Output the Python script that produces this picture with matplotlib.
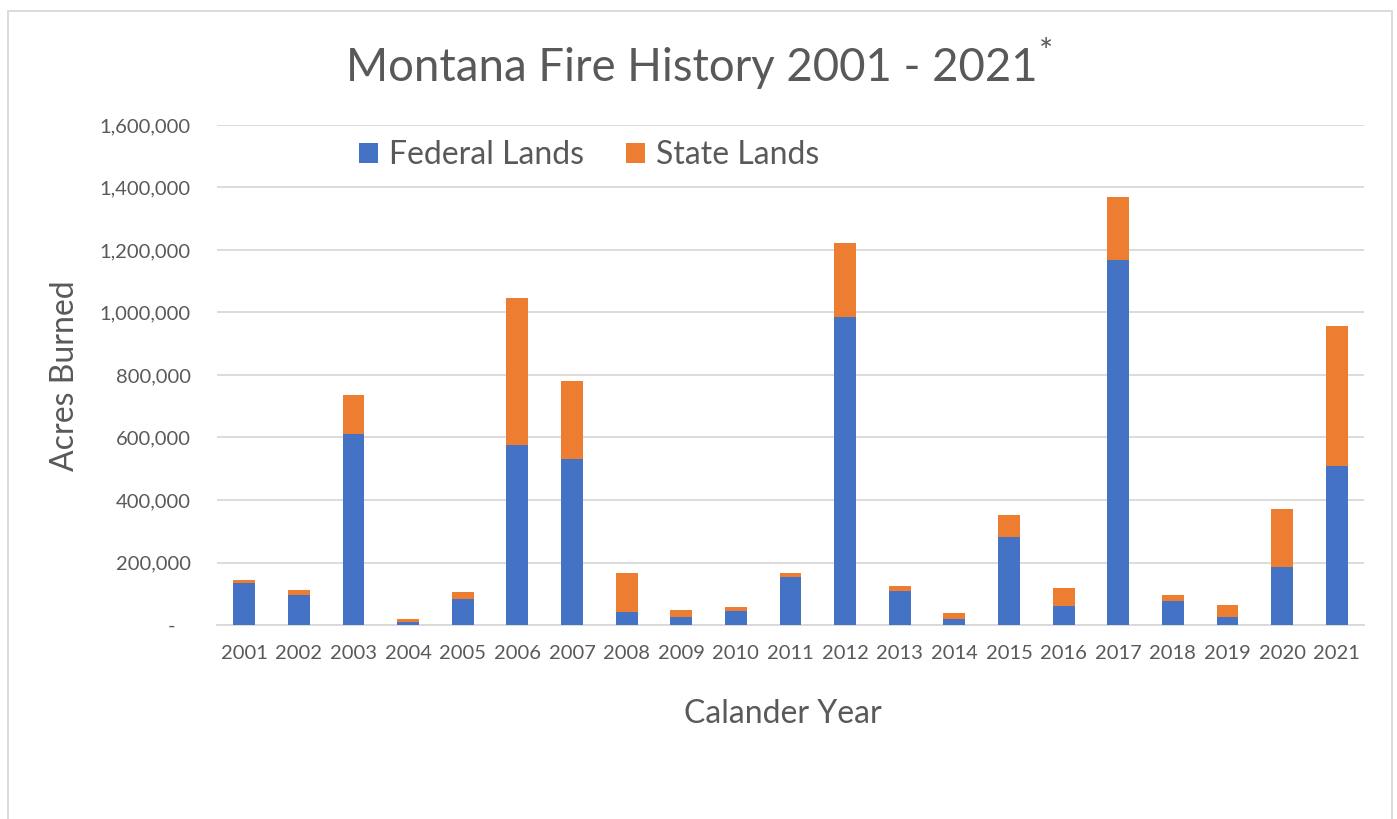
import matplotlib
matplotlib.use("Agg")
import matplotlib.pyplot as plt
from matplotlib.patches import Rectangle, Patch
import numpy as np

years = [str(y) for y in range(2001, 2022)]
federal = [135500, 96000, 611000, 10700, 82000, 575000, 532000, 41600, 26700, 44800,
           152500, 984500, 108800, 18000, 281600, 61900, 1168000, 76800, 26700, 186700, 510000]
total = [144000, 112000, 736000, 18000, 104500, 1046000, 780000, 166000, 49000, 57600,
         166400, 1223500, 123700, 37000, 352000, 117300, 1368500, 97000, 65000, 371000, 956800]
state = [t - f for t, f in zip(total, federal)]
yticks = [0, 200000, 400000, 600000, 800000, 1000000, 1200000, 1400000, 1600000]
ytick_labels = ["-   "] + [f"{v:,}" for v in yticks[1:]]

BLUE = "#4472C4"
ORANGE = "#ED7D31"
GRID = "#D9D9D9"
TXT = "#595959"
FONT = ["Lato", "DejaVu Sans"]
plt.rcParams['font.family'] = FONT

W, H = 1397, 819
fig = plt.figure(figsize=(W / 100, H / 100), dpi=100)
fig.patch.set_facecolor("white")

# chart border
fig.patches.append(Rectangle((8 / W, -0.05), (1392 - 8) / W, 1.05 - 11 / H,
                             transform=fig.transFigure, fill=False,
                             edgecolor=GRID, linewidth=1.3))

ax = fig.add_axes([217 / W, 1 - 625 / H, (1364 - 217) / W, 500 / H])
x = np.arange(len(years))
ax.bar(x, federal, width=0.4, color=BLUE, zorder=3, label="Federal Lands")
ax.bar(x, state, width=0.4, bottom=federal, color=ORANGE, zorder=3, label="State Lands")

ax.set_xlim(-0.5, len(years) - 0.5)
ax.set_ylim(0, 1600000)
ax.set_yticks(yticks)
ax.set_yticklabels(ytick_labels)
ax.set_xticks(x)
ax.set_xticklabels(years)
ax.grid(axis="y", color=GRID, linewidth=1.3, zorder=0)
for s in ["top", "right", "left"]:
    ax.spines[s].set_visible(False)
ax.spines["bottom"].set_color(GRID)
ax.spines["bottom"].set_linewidth(1.3)
ax.tick_params(axis="both", length=0, colors=TXT, labelsize=14.5)
ax.tick_params(axis="y", pad=19)
ax.tick_params(axis="x", pad=14.5)

# title
title = fig.text(691.5 / W, 1 - 81 / H, "Montana Fire History 2001 - 2021",
                 ha="center", va="baseline", fontsize=32.8, color=TXT)
fig.canvas.draw()
bb = title.get_window_extent()
fig.text((bb.x1 + 2) / W, 1 - 38 / H, "*", ha="left", va="top",
         fontsize=24, color=TXT)

# axis titles
fig.text(65 / W, 1 - 376 / H, "Acres Burned", rotation=90,
         ha="center", va="center", fontsize=23, color=TXT)
fig.text(783 / W, 1 - 723 / H, "Calander Year", ha="center", va="baseline",
         fontsize=23, color=TXT)

# legend
handles = [Patch(facecolor=BLUE), Patch(facecolor=ORANGE)]
leg = fig.legend(handles, ["Federal Lands", "State Lands"], loc="center left",
                 bbox_to_anchor=(359 / W, 1 - 155 / H), ncol=2, frameon=False,
                 fontsize=23, handlelength=0.6, handleheight=0.6,
                 handletextpad=0.35, columnspacing=1.3, borderpad=0,
                 borderaxespad=0)
for t in leg.get_texts():
    t.set_color(TXT)

fig.savefig("out.png", dpi=100, facecolor="white")
